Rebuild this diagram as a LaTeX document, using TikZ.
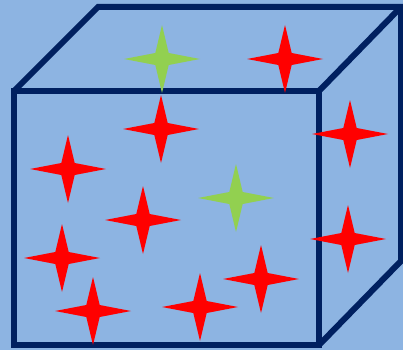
\documentclass[tikz,border=0pt]{standalone}
\definecolor{bgblue}{RGB}{141,180,226}
\definecolor{navy}{RGB}{0,32,96}
\definecolor{starred}{RGB}{255,0,0}
\definecolor{stargreen}{RGB}{146,208,80}
\tikzset{
  cubeline/.style={draw=navy, line width=6pt, line join=miter},
  fourstar/.pic={\fill[pic actions] (-38,0) -- (-6.7,-6) -- (0,-34) -- (6.7,-6) -- (38,0) -- (6.7,6) -- (0,34) -- (-6.7,6) -- cycle;},
  redstar/.style={fill=starred},
  greenstar/.style={fill=stargreen}
}
\begin{document}
\begin{tikzpicture}[x=1pt,y=-1pt]
\useasboundingbox (0,0) rectangle (403,350);
\clip (0,0) rectangle (403,350);
\fill[bgblue] (0,0) rectangle (403,350);
% cube
\coordinate (ftl) at (14,91);
\coordinate (ftr) at (319,91);
\coordinate (fbr) at (319,345);
\coordinate (fbl) at (14,345);
\coordinate (btl) at (98,7);
\coordinate (btr) at (401,7);
\coordinate (bbr) at (401,261);
\draw[cubeline] (ftl) -- (ftr) -- (fbr) -- (fbl) -- cycle;
\draw[cubeline] (ftl) -- (btl) -- (btr) -- (bbr) -- (fbr);
\draw[cubeline] (ftr) -- (btr);
% stars
\pic[greenstar] at (162,59) {fourstar};
\pic[greenstar] at (236,198) {fourstar};
\pic[redstar] at (285,59) {fourstar};
\pic[redstar] at (161,129) {fourstar};
\pic[redstar] at (350,134) {fourstar};
\pic[redstar] at (68,169) {fourstar};
\pic[redstar] at (143,220) {fourstar};
\pic[redstar] at (348,239) {fourstar};
\pic[redstar] at (62,258) {fourstar};
\pic[redstar] at (261,279) {fourstar};
\pic[redstar] at (93,311) {fourstar};
\pic[redstar] at (200,307) {fourstar};
\end{tikzpicture}
\end{document}
